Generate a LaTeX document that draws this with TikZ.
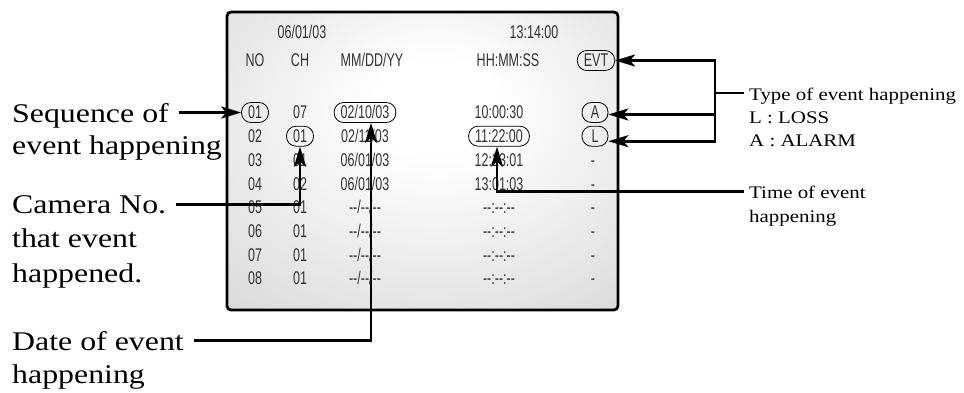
\documentclass[tikz,border=0pt]{standalone}
\usepackage{fontspec}
\setmainfont{Liberation Serif}
\newfontfamily\osdfont[FakeStretch=0.68]{Liberation Sans}
\newfontfamily\notefont[FakeStretch=1.18]{Liberation Serif}
\usepackage{xcolor}
\usetikzlibrary{arrows.meta}
\definecolor{osdtext}{RGB}{50,50,50}
\pgfdeclareradialshading{screenglow}{\pgfpoint{2bp}{10bp}}{color(0bp)=(white); color(8bp)=(white); color(45bp)=(black!17); color(80bp)=(black!22)}

\begin{document}
\begin{tikzpicture}[
    x=1pt, y=-1pt,
    osd/.style={font=\osdfont\fontsize{18.4}{20}\selectfont, text=osdtext,
                text height=13pt, text depth=0pt, inner sep=0pt},
    circled/.style={osd, draw=black, line width=0.8pt, rounded corners=9.5pt,
                    inner xsep=6.5pt, inner ysep=3.5pt, minimum width=26pt},
    lbl/.style={font=\notefont\fontsize{27}{34}\selectfont, inner xsep=10pt,
                inner ysep=0pt, anchor=base west},
    note/.style={font=\notefont\fontsize{17.7}{23}\selectfont, inner xsep=5pt,
                 inner ysep=0pt, anchor=base west},
    line/.style={line width=2.8pt},
    arr/.style={-{Stealth[length=20pt, width=12pt, inset=5pt]}, line width=2.8pt},
  ]
  \useasboundingbox (0,0) rectangle (964,393);

  \shadedraw[shading=screenglow, line width=2.8pt, rounded corners=4pt]
    (227,12) rectangle (618,310);

  \node[osd] (hdate) at (302,32.5) {06/01/03};
  \node[osd] (hclock) at (534,32.5) {13:14:00};
  \node[osd] (hno) at (255,60.5) {NO};
  \node[osd] (hch) at (300,60.5) {CH};
  \node[osd] (hdmy) at (372,60.5) {MM/DD/YY};
  \node[osd] (hhms) at (508,60.5) {HH:MM:SS};
  \node[circled] (hevt) at (596,60.5) {EVT};

  \node[circled] (no1) at (255,112.5) {01};
  \node[osd] (ch1) at (300,112.5) {07};
  \node[circled] (date1) at (365,112.5) {02/10/03};
  \node[osd] (time1) at (499,112.5) {10:00:30};
  \node[circled] (ev1) at (595,112.5) {A};

  \node[osd] (no2) at (255,136.2) {02};
  \node[circled] (ch2) at (300,136.2) {01};
  \node[osd] (date2) at (365,136.2) {02/11/03};
  \node[circled] (time2) at (499,136.2) {11:22:00};
  \node[circled] (ev2) at (595,136.2) {L};

  \foreach \c [count=\i from 3] in {01,02,01,01,01,01} {
    \node[osd] (no\i) at (255,{112.5+23.7*(\i-1)}) {0\i};
    \node[osd] (ch\i) at (300,{112.5+23.7*(\i-1)}) {\c};
    \node[osd] (ev\i) at (593,{112.5+23.7*(\i-1)}) {-};
  }
  \foreach \d [count=\i from 3] in {06/01/03,06/01/03,-{}-/-{}-/-{}-,-{}-/-{}-/-{}-,-{}-/-{}-/-{}-,-{}-/-{}-/-{}-}
    \node[osd] (date\i) at (365,{112.5+23.7*(\i-1)}) {\d};
  \foreach \t [count=\i from 3] in {12:23:01,13:01:03,-{}-:-{}-:-{}-,-{}-:-{}-:-{}-,-{}-:-{}-:-{}-,-{}-:-{}-:-{}-}
    \node[osd] (time\i) at (499,{112.5+23.7*(\i-1)}) {\t};

  \node[lbl] (seqlbl) at (2,123) {Sequence of};
  \node[lbl] (seqlbl2) at (2,155) {event happening};
  \node[lbl] (camlbl) at (2,213) {Camera No.};
  \node[lbl] (camlbl2) at (2,247) {that event};
  \node[lbl] (camlbl3) at (2,282) {happened.};
  \node[lbl] (datelbl) at (2,350) {Date of event};
  \node[lbl] (datelbl2) at (2,383) {happening};

  \node[note] (typelbl) at (744,100.7) {Type of event happening};
  \node[note] (losslbl) at (744,123.3) {L : LOSS};
  \node[note] (alarmlbl) at (744,146.7) {A : ALARM};
  \node[note] (timelbl) at (744,198) {Time of event};
  \node[note] (timelbl2) at (744,222) {happening};

  \draw[arr] (seqlbl.east |- no1) -- (no1.west);
  \draw[arr] (camlbl.east) -| (ch2.south);
  \draw[arr] (datelbl.east) -| ([xshift=6pt]date1.south);
  \draw[arr] (timelbl.west) -| ([xshift=-2pt]time2.south);

  \coordinate (tj) at (715,93);
  \draw[line] (tj) -- (tj -| typelbl.west);
  \draw[arr] (tj |- hevt.east) -- (hevt.east);
  \draw[arr] ([yshift=-2pt]tj |- ev1.east) -- ([yshift=-2pt]ev1.east);
  \draw[arr] ([yshift=-5pt]tj |- ev2.east) -- ([yshift=-5pt]ev2.east);
  \draw[line, line cap=rect] (tj |- hevt.east) -- ([yshift=-5pt]tj |- ev2.east);
\end{tikzpicture}
\end{document}
